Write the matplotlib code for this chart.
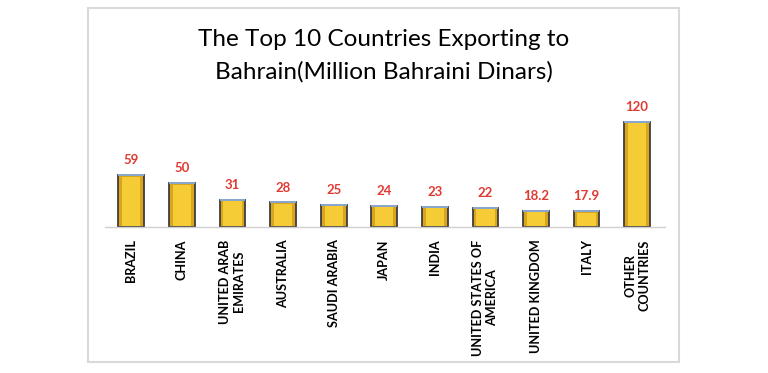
import numpy as np
import matplotlib
matplotlib.use("Agg")
from matplotlib import pyplot as plt
from matplotlib.patches import Rectangle

countries = ["BRAZIL", "CHINA", "UNITED ARAB\nEMIRATES", "AUSTRALIA", "SAUDI ARABIA",
             "JAPAN", "INDIA", "UNITED STATES OF\nAMERICA", "UNITED KINGDOM", "ITALY",
             "OTHER\nCOUNTRIES"]
values = [59, 50, 31, 28, 25, 24, 23, 22, 18.2, 17.9, 120]
value_labels = ["59", "50", "31", "28", "25", "24", "23", "22", "18.2", "17.9", "120"]

plt.rcParams['font.family'] = ['Lato', 'DejaVu Sans']

fig = plt.figure(figsize=(7.68, 3.73), dpi=100)
fig.patches.append(Rectangle((88/768, 1-362/373), (679-88)/768, (362-8)/373,
                             transform=fig.transFigure, fill=False,
                             edgecolor='#d9d9d9', linewidth=1.5))

ax = fig.add_axes([105/768, 1-227/373, 560/768, 113.75/373])
x = np.arange(len(values))

# bevelled gold bars: dark outline, gold body, lighter inner face
ax.bar(x, values, width=0.51, color='#d9a51c', edgecolor='#3d3d3d', linewidth=1.3, zorder=2)
ax.bar(x, np.array(values) - 3.0, bottom=1.5, width=0.36, color='#f5cc35', linewidth=0, zorder=3)
ax.hlines(values, x - 0.255, x + 0.255, color='#8fb0dc', linewidth=1.3, zorder=4)

for xi, v, s in zip(x, values, value_labels):
    ax.text(xi, v + 17, s, ha='center', va='center', color='#e03a32',
            fontsize=9.5, fontweight='bold')

ax.set_xlim(-0.52, 10.55)
ax.set_ylim(0, 130)
ax.set_yticks([])
ax.set_xticks(x)
ax.set_xticklabels(countries, rotation=90, fontsize=9.1, fontweight='bold',
                   multialignment='center')
ax.tick_params(axis='x', length=0, pad=9)
for side in ['top', 'right', 'left']:
    ax.spines[side].set_visible(False)
ax.spines['bottom'].set_color('#d0d0d0')
ax.spines['bottom'].set_linewidth(1)

fig.text(0.5, 1-40/373, "The Top 10 Countries Exporting to", ha='center', va='center',
         fontsize=17.5, color='#000000')
fig.text(0.5, 1-72/373, "Bahrain(Million Bahraini Dinars)", ha='center', va='center',
         fontsize=17.5, color='#000000')

fig.savefig("out.png", dpi=100)
